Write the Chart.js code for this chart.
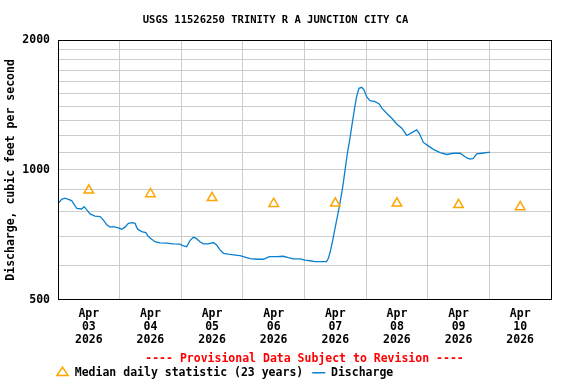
<!DOCTYPE html>
<html>
<head>
<meta charset="utf-8">
<script src="https://cdn.jsdelivr.net/npm/chart.js@4/dist/chart.umd.min.js"></script>
<style>
  html, body { margin: 0; padding: 0; background: #fff; }
</style>
</head>
<body>
<canvas id="grafica" width="576" height="384"></canvas>
<script>
// hours counted from Apr 03 00:00, values in cubic feet per second
const dischargeHours = [0.4, 1.4, 2.7, 4.0, 5.3, 6.4, 7.3, 9.2, 10.2, 11.2, 12.5, 14.4, 16.4, 17.6, 19.0, 20.3, 21.5, 23.5,
  24.8, 26.1, 27.4, 28.9, 30.0, 31.0, 32.6, 34.2, 35.2, 36.5, 37.8, 39.7, 42.3, 44.9, 47.5,
  48.8, 50.1, 51.4, 52.7, 53.7, 55.3, 56.6, 58.5, 60.5, 61.8, 63.1, 64.4, 66.3, 68.3, 70.9,
  72.8, 74.8, 77.4, 80.0, 82.3, 85.2, 87.7, 89.7, 91.6, 94.3,
  96.2, 98.1, 100.1, 102.7, 104.6, 105.3, 106.1, 107.0, 107.9, 108.8, 109.8, 110.9, 111.8, 112.7, 113.7, 114.6, 115.4, 116.3, 117.2, 118.3, 119.2,
  120.2, 121.5, 123.5, 125.1, 126.1, 128.0, 130.0, 131.9, 133.9, 135.8, 137.8, 139.7, 140.7, 142.3,
  144.2, 146.2, 148.8, 151.4, 154.0, 156.6, 159.2, 160.5, 161.7, 163.1, 165.0, 167.6, 168.2];
const discharge = [840, 855, 860, 855, 849, 830, 815, 812, 822, 808, 791, 782, 780, 766, 746, 737, 739, 734,
  729, 737, 752, 755, 752, 729, 720, 716, 701, 691, 682, 678, 677, 674, 673,
  667, 664, 686, 698, 695, 682, 674, 674, 679, 670, 653, 641, 638, 636, 633,
  628, 623, 621, 621, 630, 630, 631, 626, 622, 622,
  618, 616, 613, 613, 613, 624, 649, 688, 733, 780, 837, 915, 1000, 1093, 1184, 1283, 1377, 1478, 1546, 1554, 1532,
  1478, 1447, 1439, 1422, 1390, 1353, 1317, 1278, 1249, 1202, 1220, 1238, 1216, 1158,
  1137, 1116, 1097, 1086, 1093, 1093, 1066, 1059, 1064, 1089, 1093, 1098, 1099];

const medianHours = [12, 36, 60, 84, 108, 132, 156, 180];
const median = [897, 880, 862, 835, 837, 837, 830, 821];

const tickHours = [12, 36, 60, 84, 108, 132, 156, 180];
const tickMonth = 'Apr';
const tickDays = ['03', '04', '05', '06', '07', '08', '09', '10'];
const tickYear = '2026';
const yTicks = [500, 600, 700, 800, 900, 1000, 1100, 1200, 1300, 1400, 1500, 1600, 1700, 1800, 1900, 2000];
const yLabeled = [500, 1000, 2000];

Chart.defaults.font.family = "'DejaVu Sans Mono', monospace";
Chart.defaults.font.weight = 'bold';
Chart.defaults.font.size = 11.5;
Chart.defaults.color = '#000';

// black frame round the plot, legend pushed to the left like the original
const frame = {
  id: 'frame',
  afterLayout(chart) {
    const l = chart.legend;
    l.left = 47;
    l.top = 358;
    l.bottom = l.top + l.height;
  },
  afterDraw(chart) {
    const a = chart.chartArea;
    const ctx = chart.ctx;
    ctx.save();
    ctx.strokeStyle = '#000';
    ctx.lineWidth = 1;
    ctx.strokeRect(Math.round(a.left) + 0.5, Math.round(a.top) + 0.5, Math.round(a.right - a.left), Math.round(a.bottom - a.top) - 1);
    ctx.restore();
  }
};

const ctx = document.getElementById('grafica').getContext('2d');
const chart = new Chart(ctx, {
  type: 'line',
  data: {
    datasets: [
      {
        label: 'Median daily statistic (23 years)',
        data: medianHours.map((h, i) => ({ x: h, y: median[i] })),
        showLine: false,
        pointStyle: 'triangle',
        pointRadius: 5.5,
        pointBorderWidth: 1.5,
        pointBorderColor: '#ffa500',
        pointBackgroundColor: 'rgba(0,0,0,0)',
        borderColor: '#ffa500',
        backgroundColor: 'rgba(0,0,0,0)'
      },
      {
        label: 'Discharge',
        data: dischargeHours.map((h, i) => ({ x: h, y: discharge[i] })),
        borderColor: '#0a80d0',
        backgroundColor: '#0a80d0',
        borderWidth: 1.3,
        pointRadius: 0,
        pointStyle: 'line',
        pointBorderColor: '#0a80d0',
        pointBorderWidth: 1.3,
        tension: 0,
        fill: false
      }
    ]
  },
  options: {
    responsive: false,
    animation: false,
    layout: { padding: { left: 0, right: 25, top: 0, bottom: 0 } },
    scales: {
      x: {
        type: 'linear',
        min: 0,
        max: 192,
        afterBuildTicks: s => { s.ticks = tickHours.map(v => ({ value: v })); },
        afterFit: s => { s.height = 47; },
        ticks: {
          autoSkip: false,
          maxRotation: 0,
          padding: 7.5,
          font: { size: 11.5, lineHeight: 1.13 },
          callback: (v, i) => [tickMonth, tickDays[i], tickYear]
        },
        grid: { offset: true, color: '#cccccc', drawTicks: false },
        border: { display: false }
      },
      y: {
        type: 'logarithmic',
        min: 500,
        max: 2000,
        afterBuildTicks: s => { s.ticks = yTicks.map(v => ({ value: v })); },
        afterFit: s => { s.width = 58; },
        ticks: {
          padding: 8,
          callback: v => yLabeled.includes(v) ? String(v) : ''
        },
        grid: { color: '#cccccc', drawTicks: false },
        border: { display: false },
        title: {
          display: true,
          text: 'Discharge, cubic feet per second',
          font: { size: 11.5, weight: 'bold' },
          padding: { top: 4, bottom: 4 }
        }
      }
    },
    plugins: {
      title: {
        display: true,
        text: 'USGS 11526250 TRINITY R A JUNCTION CITY CA',
        color: '#000',
        font: { size: 10.5, weight: 'bold', lineHeight: 1.2 },
        padding: { top: 14.4, bottom: 13 }
      },
      subtitle: {
        display: true,
        position: 'bottom',
        fullSize: false,
        weight: 500,
        text: '---- Provisional Data Subject to Revision ----',
        color: '#ff0000',
        font: { size: 11.5, weight: 'bold', lineHeight: 1.15 },
        padding: { top: 5.4, bottom: -12 }
      },
      legend: {
        position: 'bottom',
        align: 'start',
        fullSize: false,
        weight: 1000,
        labels: {
          usePointStyle: true,
          pointStyleWidth: 13,
          boxHeight: 8,
          padding: 9,
          color: '#000',
          font: { size: 11.5, weight: 'bold' }
        }
      },
      tooltip: { enabled: false }
    }
  },
  plugins: [frame]
});
</script>
</body>
</html>
